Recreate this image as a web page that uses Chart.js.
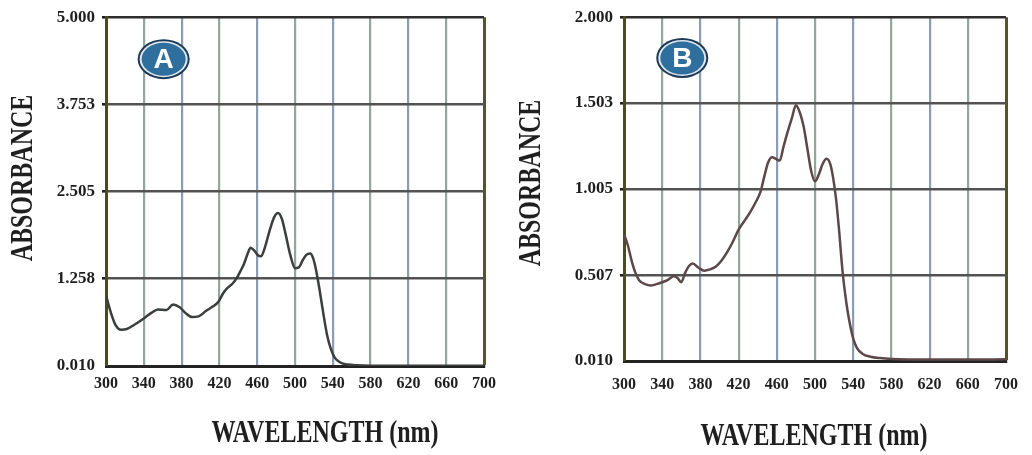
<!DOCTYPE html>
<html>
<head>
<meta charset="utf-8">
<script src="https://cdn.jsdelivr.net/npm/chart.js@4.4.0/dist/chart.umd.min.js"></script>
<style>
  body { margin: 0; background: #fff; }
  .panel { position: absolute; top: 0; width: 516px; height: 455px; }
</style>
</head>
<body>
<div class="panel" style="left:0"><canvas id="chartA"></canvas></div>
<div class="panel" style="left:516px"><canvas id="chartB"></canvas></div>
<script>
// wavelength axis (nm)
var wavelengthTicks = [300, 340, 380, 420, 460, 500, 540, 580, 620, 660, 700];

// panel A
var wavelengthsA = [300, 305, 310, 316, 322, 330, 340, 348, 355, 364, 371, 378, 384, 391, 398, 406, 413, 419, 424, 428, 434, 438, 442, 446, 450, 453, 457, 461, 464, 468, 473, 478, 482, 486, 490, 495, 500, 504, 508, 512, 516, 519, 522, 526, 530, 534, 538, 542, 548, 556, 566, 580, 620, 660, 700];
var absorbanceA = [1.02, 0.78, 0.60, 0.53, 0.54, 0.60, 0.69, 0.77, 0.82, 0.81, 0.89, 0.85, 0.77, 0.71, 0.72, 0.80, 0.86, 0.93, 1.05, 1.12, 1.19, 1.26, 1.36, 1.47, 1.62, 1.70, 1.66, 1.59, 1.58, 1.70, 1.94, 2.14, 2.20, 2.12, 1.90, 1.60, 1.41, 1.42, 1.52, 1.60, 1.62, 1.56, 1.40, 1.10, 0.76, 0.45, 0.25, 0.13, 0.06, 0.03, 0.02, 0.015, 0.015, 0.015, 0.015];
var absorbanceTicksA = [0.010, 1.258, 2.505, 3.753, 5.000];

// panel B
var wavelengthsB = [300, 304, 308, 312, 316, 322, 328, 334, 340, 346, 352, 356, 360, 364, 368, 372, 378, 384, 390, 396, 402, 408, 414, 420, 426, 432, 438, 443, 447, 451, 455, 459, 463, 467, 471, 476, 480, 484, 488, 492, 496, 500, 504, 508, 512, 516, 519, 522, 525, 529, 533, 536, 540, 544, 550, 558, 568, 580, 620, 660, 700];
var absorbanceB = [0.744, 0.68, 0.59, 0.52, 0.476, 0.455, 0.447, 0.455, 0.466, 0.48, 0.50, 0.49, 0.466, 0.52, 0.56, 0.575, 0.55, 0.533, 0.54, 0.555, 0.59, 0.64, 0.70, 0.77, 0.82, 0.87, 0.93, 0.99, 1.08, 1.16, 1.19, 1.18, 1.17, 1.25, 1.33, 1.42, 1.49, 1.45, 1.37, 1.24, 1.11, 1.05, 1.09, 1.15, 1.18, 1.15, 1.07, 0.95, 0.78, 0.52, 0.34, 0.24, 0.14, 0.085, 0.05, 0.035, 0.027, 0.022, 0.018, 0.018, 0.02];
var absorbanceTicksB = [0.010, 0.507, 1.005, 1.503, 2.000];

var xTitle = 'WAVELENGTH (nm)';
var yTitle = 'ABSORBANCE';

var serif = '"Liberation Serif", "Times New Roman", serif';

function toPoints(xs, ys) {
  return xs.map(function (x, i) { return { x: x, y: ys[i] }; });
}

// axis titles and the lettered badge
var panelDecor = {
  id: 'panelDecor',
  afterDraw: function (chart, args, opts) {
    var ctx = chart.ctx;
    ctx.save();
    ctx.fillStyle = '#1f1f1f';
    ctx.textAlign = 'center';
    ctx.textBaseline = 'middle';

    ctx.save();
    ctx.translate(opts.xTitlePos[0], opts.xTitlePos[1]);
    ctx.scale(1, 1.3);
    ctx.font = 'bold 24px ' + serif;
    ctx.fillText(xTitle, 0, 0);
    ctx.restore();

    ctx.save();
    ctx.translate(opts.yTitlePos[0], opts.yTitlePos[1]);
    ctx.rotate(-Math.PI / 2);
    ctx.scale(1, 1.3);
    ctx.font = 'bold 24px ' + serif;
    ctx.fillText(yTitle, 0, 0);
    ctx.restore();

    var cx = chart.scales.x.getPixelForValue(361);
    var cy = chart.scales.y.getPixelForValue(opts.badgeY);
    ctx.beginPath();
    ctx.ellipse(cx, cy, 26, 20, 0, 0, Math.PI * 2);
    ctx.fillStyle = '#1c3a57';
    ctx.fill();
    ctx.beginPath();
    ctx.ellipse(cx, cy, 24, 18, 0, 0, Math.PI * 2);
    ctx.fillStyle = '#dfe8ee';
    ctx.fill();
    ctx.beginPath();
    ctx.ellipse(cx, cy, 22, 16.5, 0, 0, Math.PI * 2);
    ctx.fillStyle = '#2f6f9d';
    ctx.fill();
    ctx.fillStyle = '#ffffff';
    ctx.font = 'bold 28px "Liberation Sans", Arial, sans-serif';
    ctx.fillText(opts.letter, cx, cy + 1);
    ctx.restore();
  }
};

function makePanel(id, xs, ys, yTicks, cfg) {
  var yMax = yTicks[yTicks.length - 1];
  return new Chart(document.getElementById(id), {
    type: 'line',
    data: {
      datasets: [{
        data: toPoints(xs, ys),
        borderColor: cfg.lineColor,
        borderWidth: 2.5,
        pointRadius: 0,
        cubicInterpolationMode: 'monotone',
        fill: false
      }]
    },
    options: {
      responsive: true,
      maintainAspectRatio: false,
      animation: false,
      layout: { padding: { top: cfg.padTop, right: cfg.padRight, left: 0, bottom: 0 } },
      plugins: {
        legend: { display: false },
        tooltip: { enabled: false },
        panelDecor: cfg.decor
      },
      scales: {
        x: {
          type: 'linear',
          min: 300,
          max: 700,
          afterBuildTicks: function (scale) {
            scale.ticks = wavelengthTicks.map(function (v) { return { value: v }; });
          },
          afterFit: function (scale) { scale.height = cfg.xHeight; },
          ticks: {
            padding: cfg.xLabelPad,
            color: '#1e1e1e',
            font: { family: serif, size: 16, weight: 'bold' },
            maxRotation: 0,
            autoSkip: false,
            callback: function (v) { return String(v); }
          },
          grid: {
            drawTicks: false,
            color: function (c) {
              if (c.tick && c.tick.value === 700) return '#55552c';
              return c.index % 2 ? '#93a69c' : '#8b9cb3';
            },
            lineWidth: function (c) {
              return c.tick && c.tick.value === 700 ? 3 : 2.2;
            }
          },
          border: { color: '#232323', width: 3 }
        },
        y: {
          min: yTicks[0],
          max: yMax,
          afterBuildTicks: function (scale) {
            scale.ticks = yTicks.map(function (v) { return { value: v }; });
          },
          afterFit: function (scale) { scale.width = cfg.yWidth; },
          ticks: {
            padding: 7,
            color: '#1e1e1e',
            font: { family: serif, size: 17, weight: 'bold' },
            callback: function (v) { return Number(v).toFixed(3); }
          },
          grid: {
            tickLength: 4,
            tickColor: '#222',
            color: function (c) {
              if (c.tick && c.tick.value === yMax) return '#2e2e2e';
              return '#525252';
            },
            lineWidth: function (c) {
              if (c.tick && c.tick.value === yTicks[0]) return 0;
              return 2.6;
            }
          },
          border: { color: '#4a4a26', width: 3 }
        }
      }
    },
    plugins: [panelDecor]
  });
}

makePanel('chartA', wavelengthsA, absorbanceA, absorbanceTicksA, {
  lineColor: '#3b3e3e',
  padTop: 16, padRight: 32, yWidth: 106, xHeight: 89, xLabelPad: 8,
  decor: { letter: 'A', badgeY: 4.40, xTitlePos: [325, 434], yTitlePos: [24, 178] }
});

makePanel('chartB', wavelengthsB, absorbanceB, absorbanceTicksB, {
  lineColor: '#5c4849',
  padTop: 15, padRight: 14, yWidth: 108, xHeight: 94, xLabelPad: 14,
  decor: { letter: 'B', badgeY: 1.764, xTitlePos: [298, 437], yTitlePos: [16, 183] }
});
</script>
</body>
</html>
